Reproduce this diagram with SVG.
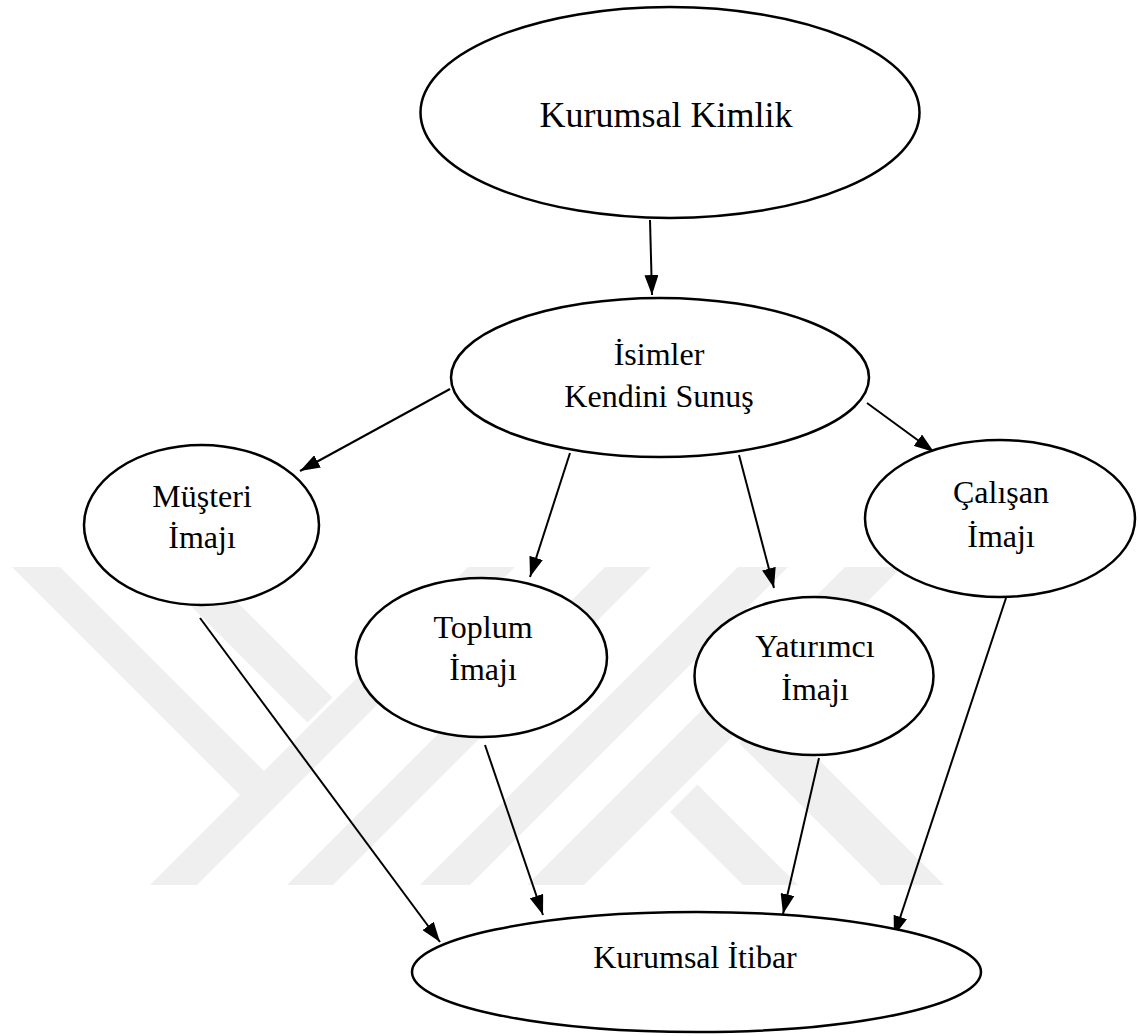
<svg xmlns="http://www.w3.org/2000/svg" width="1138" height="1036" viewBox="0 0 1138 1036">
<style>
.node ellipse{fill:#fff;stroke:#000;stroke-width:2.5}
.node text{font-family:"Liberation Serif","Times New Roman",serif;font-size:32px;fill:#000;text-anchor:middle}
.edge{stroke:#000;stroke-width:2;fill:none;marker-end:url(#arr)}
.wm{fill:#efefef}
</style>
<defs>
<marker id="arr" markerUnits="userSpaceOnUse" markerWidth="22" markerHeight="14" refX="20" refY="7" orient="auto">
<path d="M0,0 L20,7 L0,14 z" fill="#000"/>
</marker>
</defs>
<rect width="1138" height="1036" fill="#fff"/>
<g id="watermark">
<polygon class="wm" points="468,567 515,567 197,885 150,885"/>
<polygon class="wm" points="605,567 651,567 333,885 287,885"/>
<polygon class="wm" points="738,567 788,567 470,885 420,885"/>
<polygon class="wm" points="845,567 902,567 584,885 527,885"/>
<polygon class="wm" points="12,567 60,567 271.5,778.5 247.5,802.5"/>
<polygon class="wm" points="152,567 202,567 332.5,697.5 307.5,722.5"/>
<polygon class="wm" points="670,812 697.5,784.5 798,885 743,885"/>
<polygon class="wm" points="739,743 770.5,711.5 944,885 881,885"/>
</g>
<g id="connectors">
<line class="edge" x1="650" y1="220" x2="652" y2="295"/>
<line class="edge" x1="450" y1="389" x2="300" y2="471"/>
<line class="edge" x1="570" y1="453" x2="530" y2="577"/>
<line class="edge" x1="739" y1="455" x2="774" y2="588"/>
<line class="edge" x1="867" y1="403" x2="934" y2="452"/>
<line class="edge" x1="200" y1="618" x2="440" y2="942"/>
<line class="edge" x1="485" y1="745" x2="543" y2="915"/>
<line class="edge" x1="819" y1="758" x2="783" y2="914"/>
<line class="edge" x1="1006" y1="598" x2="894" y2="936"/>
</g>
<g id="n-kimlik" class="node">
<ellipse cx="670" cy="112.5" rx="249.5" ry="105.5"/>
<text x="666" y="127" style="font-size:36px">Kurumsal Kimlik</text>
</g>
<g id="n-isimler" class="node">
<ellipse cx="660" cy="377.5" rx="209" ry="79.5"/>
<text x="659" y="365">İsimler</text>
<text x="659" y="407">Kendini Sunuş</text>
</g>
<g id="n-musteri" class="node">
<ellipse cx="201.5" cy="525" rx="117.5" ry="80"/>
<text x="202" y="507">Müşteri</text>
<text x="202" y="548">İmajı</text>
</g>
<g id="n-toplum" class="node">
<ellipse cx="481.5" cy="657.5" rx="125.5" ry="79.5"/>
<text x="483" y="638">Toplum</text>
<text x="483" y="680">İmajı</text>
</g>
<g id="n-yatirimci" class="node">
<ellipse cx="814" cy="676" rx="119.5" ry="79"/>
<text x="815" y="657">Yatırımcı</text>
<text x="815" y="700">İmajı</text>
</g>
<g id="n-calisan" class="node">
<ellipse cx="1000" cy="518.5" rx="135" ry="78.5"/>
<text x="1001" y="503">Çalışan</text>
<text x="1001" y="547">İmajı</text>
</g>
<g id="n-itibar" class="node">
<ellipse cx="696.5" cy="972" rx="284.5" ry="60"/>
<text x="695" y="968">Kurumsal İtibar</text>
</g>
</svg>
